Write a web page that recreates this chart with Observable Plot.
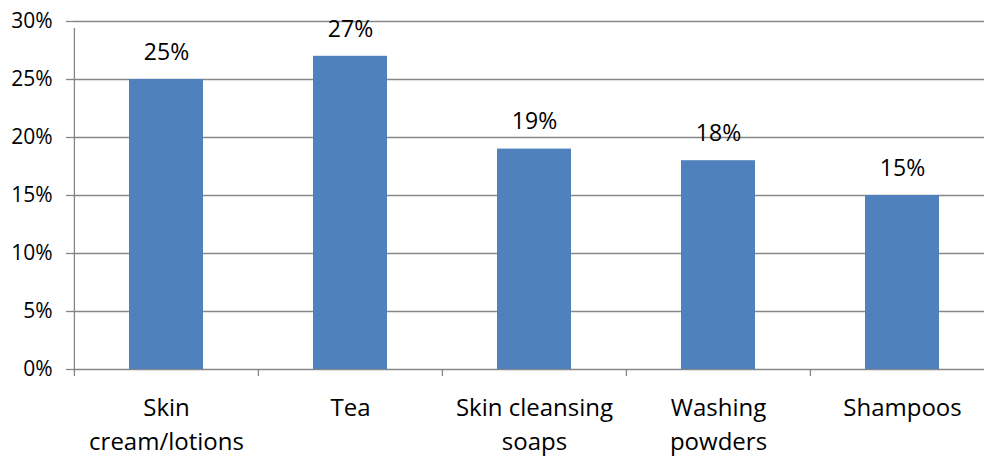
<!DOCTYPE html>
<html>
<head>
<meta charset="utf-8">
<script src="https://cdn.jsdelivr.net/npm/d3@7"></script>
<script src="https://cdn.jsdelivr.net/npm/@observablehq/plot@0.6"></script>
<style>
  html, body { margin: 0; padding: 0; background: #fff; }
  #chart svg { display: block; }
</style>
</head>
<body>
<div id="chart"></div>
<script>
const categories = ["Skin\ncream/lotions", "Tea", "Skin cleansing\nsoaps", "Washing\npowders", "Shampoos"];
const values = [25, 27, 19, 18, 15];
const yTicks = [0, 5, 10, 15, 20, 25, 30];

const data = categories.map((c, i) => ({category: c, value: values[i]}));

const W = 984, H = 456;
const left = 73, rightEdge = 994;
const step = (rightEdge - left) / categories.length;
const gridColor = "#868686";
const font = "Open Sans, sans-serif";

const chart = Plot.plot({
  width: W,
  height: H,
  marginLeft: left,
  marginRight: 0,
  marginTop: 21,
  marginBottom: 87,
  style: {fontFamily: font, fontSize: "21px", color: "#000", background: "#fff"},
  x: {domain: categories, range: [left, rightEdge], paddingInner: 0.6, paddingOuter: 0.3},
  y: {domain: [0, 30]},
  marks: [
    Plot.gridY(yTicks, {stroke: gridColor, strokeOpacity: 1, strokeWidth: 1.3}),
    Plot.barY(data, {x: "category", y: "value", fill: "#4F81BD"}),
    Plot.ruleX(categories, {x: d => d, y1: 0, y2: 0, dx: -step / 2, insetBottom: -7, stroke: gridColor, strokeWidth: 1.3}),
    Plot.ruleX([categories[0]], {x: d => d, y1: 0, y2: 30, dx: -step / 2, insetBottom: -7, stroke: gridColor, strokeWidth: 1.3}),
    Plot.axisY(yTicks, {tickFormat: d => d + "%", tickSize: 7, tickPadding: 14, stroke: gridColor, strokeWidth: 1.3, fontSize: 21, fill: "#000", label: null}),
    Plot.axisX({tickSize: 0, tickPadding: 22, fontSize: 24, lineHeight: 1.42, fill: "#000", label: null}),
    Plot.text(data, {x: "category", y: "value", text: d => d.value + "%", dy: -27, fontSize: 23, fill: "#000"})
  ]
});
document.getElementById("chart").appendChild(chart);
</script>
</body>
</html>
